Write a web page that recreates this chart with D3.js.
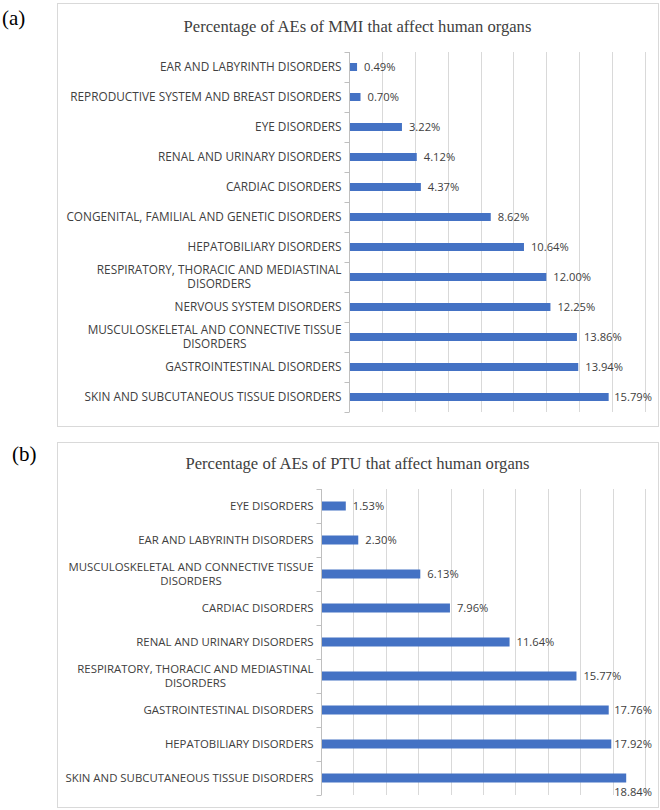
<!DOCTYPE html>
<html>
<head>
<meta charset="utf-8">
<script src="https://cdn.jsdelivr.net/npm/d3@7"></script>
<style>
  body { margin: 0; background: #fff; }
</style>
</head>
<body>
<div id="chart"></div>
<script>
// panel (a): MMI
var mmiCategories = [
    "EAR AND LABYRINTH DISORDERS",
    "REPRODUCTIVE SYSTEM AND BREAST DISORDERS",
    "EYE DISORDERS",
    "RENAL AND URINARY DISORDERS",
    "CARDIAC DISORDERS",
    "CONGENITAL, FAMILIAL AND GENETIC DISORDERS",
    "HEPATOBILIARY DISORDERS",
    "RESPIRATORY, THORACIC AND MEDIASTINAL\nDISORDERS",
    "NERVOUS SYSTEM DISORDERS",
    "MUSCULOSKELETAL AND CONNECTIVE TISSUE\nDISORDERS",
    "GASTROINTESTINAL DISORDERS",
    "SKIN AND SUBCUTANEOUS TISSUE DISORDERS"
];
var mmiValues = [0.49, 0.70, 3.22, 4.12, 4.37, 8.62, 10.64, 12.00, 12.25, 13.86, 13.94, 15.79];
var mmiTicks = [0, 2, 4, 6, 8, 10, 12, 14, 16, 18];

// panel (b): PTU
var ptuCategories = [
    "EYE DISORDERS",
    "EAR AND LABYRINTH DISORDERS",
    "MUSCULOSKELETAL AND CONNECTIVE TISSUE\nDISORDERS",
    "CARDIAC DISORDERS",
    "RENAL AND URINARY DISORDERS",
    "RESPIRATORY, THORACIC AND MEDIASTINAL\nDISORDERS",
    "GASTROINTESTINAL DISORDERS",
    "HEPATOBILIARY DISORDERS",
    "SKIN AND SUBCUTANEOUS TISSUE DISORDERS"
];
var ptuValues = [1.53, 2.30, 6.13, 7.96, 11.64, 15.77, 17.76, 17.92, 18.84];
var ptuTicks = [0, 2, 4, 6, 8, 10, 12, 14, 16, 18, 20];

var barColor = "#4472C4";
var gridColor = "#d9d9d9";
var textColor = "#404040";
var labelFont = "'Open Sans', 'Noto Sans', sans-serif";
var titleFont = "'Liberation Serif', 'Times New Roman', serif";

var svg = d3.select("#chart")
    .append("svg")
    .attr("width", 660)
    .attr("height", 810);

function drawPanel(opt) {
    var g = svg.append("g");

    // outer frame
    g.append("rect")
        .attr("x", opt.box.x + 0.5)
        .attr("y", opt.box.y + 0.5)
        .attr("width", opt.box.w)
        .attr("height", opt.box.h)
        .attr("fill", "#fff")
        .attr("stroke", gridColor)
        .attr("stroke-width", 1);

    // panel letter
    g.append("text")
        .attr("x", opt.letterX)
        .attr("y", opt.box.y + opt.letterDy)
        .style("font-family", titleFont)
        .style("font-size", "21px")
        .attr("fill", "#000")
        .text(opt.letter);

    // title
    g.append("text")
        .attr("x", opt.box.x + opt.box.w / 2)
        .attr("y", opt.box.y + opt.titleDy)
        .attr("text-anchor", "middle")
        .style("font-family", titleFont)
        .style("font-size", "16.6px")
        .attr("fill", textColor)
        .text(opt.title);

    var x = d3.scaleLinear()
        .domain([0, d3.max(opt.ticks)])
        .range([opt.plot.left, opt.plot.right]);

    var y = d3.scaleBand()
        .domain(opt.categories)
        .range([opt.plot.top, opt.plot.bottom]);

    // vertical gridlines
    g.append("g")
        .selectAll("line")
        .data(opt.ticks.slice(1))
        .join("line")
        .attr("x1", function(d) { return Math.round(x(d)) + 0.5; })
        .attr("x2", function(d) { return Math.round(x(d)) + 0.5; })
        .attr("y1", opt.plot.top)
        .attr("y2", opt.plot.bottom)
        .attr("stroke", gridColor)
        .attr("stroke-width", 1);

    // category axis with ticks between bands
    var ax = g.append("g");
    var x0 = Math.round(x(0)) + 0.5;
    ax.append("line")
        .attr("x1", x0).attr("x2", x0)
        .attr("y1", opt.plot.top).attr("y2", opt.plot.bottom)
        .attr("stroke", "#bfbfbf");
    var bounds = opt.categories.map(function(c) { return y(c); }).concat([opt.plot.bottom]);
    ax.selectAll("line.tk")
        .data(bounds)
        .join("line")
        .attr("class", "tk")
        .attr("x1", x0 - 5).attr("x2", x0)
        .attr("y1", function(d) { return Math.round(d) + 0.5; })
        .attr("y2", function(d) { return Math.round(d) + 0.5; })
        .attr("stroke", "#bfbfbf");

    // category labels (possibly two lines, centred on each other)
    opt.categories.forEach(function(c) {
        var lines = c.split("\n");
        var cy = y(c) + y.bandwidth() / 2;
        var lh = 14;
        var t = g.append("text")
            .style("font-family", labelFont)
            .style("font-size", opt.labelSize + "px")
            .attr("fill", textColor);
        var spans = lines.map(function(l, i) {
            return t.append("tspan")
                .attr("y", cy - (lines.length - 1) * lh / 2 + i * lh)
                .attr("dy", "0.35em")
                .text(l);
        });
        var maxW = d3.max(spans, function(s) { return s.node().getComputedTextLength(); });
        var right = x0 - 8;
        spans.forEach(function(s) {
            s.attr("x", lines.length > 1 ? right - maxW / 2 : right);
        });
        t.attr("text-anchor", lines.length > 1 ? "middle" : "end");
    });

    // bars
    var data = opt.categories.map(function(c, i) { return {cat: c, value: opt.values[i]}; });
    g.append("g")
        .selectAll("rect")
        .data(data)
        .join("rect")
        .attr("x", x(0) + 1)
        .attr("y", function(d) { return y(d.cat) + y.bandwidth() / 2 - opt.barH / 2; })
        .attr("width", function(d) { return x(d.value) - x(0) - 1; })
        .attr("height", opt.barH)
        .attr("fill", barColor);

    // value labels
    var boxRight = opt.box.x + opt.box.w;
    data.forEach(function(d) {
        var cy = y(d.cat) + y.bandwidth() / 2;
        var t = g.append("text")
            .attr("y", cy)
            .attr("dy", "0.35em")
            .style("font-family", labelFont)
            .style("font-size", opt.valueSize + "px")
            .attr("fill", textColor)
            .text(d.value.toFixed(2) + "%");
        var w = t.node().getComputedTextLength();
        var xe = x(d.value);
        if (xe + w > boxRight - 5) {
            // no room: Excel drops it under the bar
            t.attr("x", boxRight - 6 - w).attr("y", cy + 14);
        } else {
            t.attr("x", Math.min(xe + 7, boxRight - 6 - w));
        }
    });
}

drawPanel({
    letter: "(a)", letterX: 2, letterDy: 22,
    title: "Percentage of AEs of MMI that affect human organs", titleDy: 29,
    box: {x: 57, y: 3, w: 601, h: 423},
    plot: {left: 349, right: 645, top: 52, bottom: 412},
    categories: mmiCategories, values: mmiValues, ticks: mmiTicks,
    barH: 8, labelSize: 11.8, valueSize: 11.2
});

drawPanel({
    letter: "(b)", letterX: 12, letterDy: 19,
    title: "Percentage of AEs of PTU that affect human organs", titleDy: 27,
    box: {x: 57, y: 442, w: 601, h: 365},
    plot: {left: 321, right: 645, top: 489, bottom: 795},
    categories: ptuCategories, values: ptuValues, ticks: ptuTicks,
    barH: 9, labelSize: 11.4, valueSize: 11.2
});
</script>
</body>
</html>
